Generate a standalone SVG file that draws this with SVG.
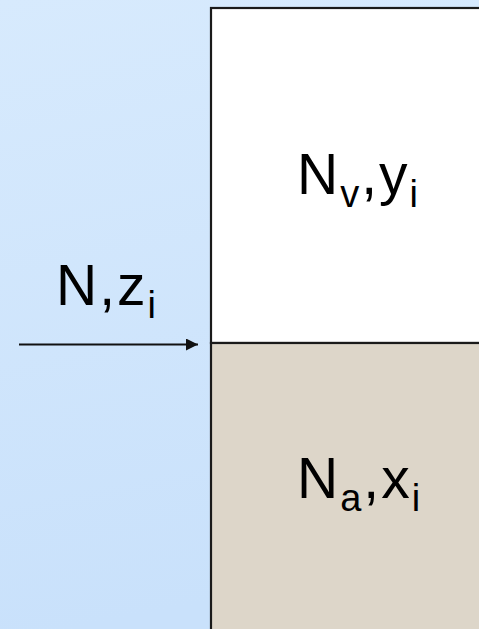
<svg xmlns="http://www.w3.org/2000/svg" width="479" height="629" viewBox="0 0 479 629">
  <defs>
    <linearGradient id="bg" x1="0" y1="0" x2="0.15" y2="1">
      <stop offset="0" stop-color="#d7eafd"/>
      <stop offset="1" stop-color="#c9e1fb"/>
    </linearGradient>
    <marker id="ah" viewBox="0 0 10 10" refX="10" refY="5" markerWidth="8.5" markerHeight="6" markerUnits="strokeWidth" orient="auto">
      <path d="M0,0 L10,5 L0,10 Z" fill="#111"/>
    </marker>
  </defs>
  <style>
    .lbl { font-family: "Liberation Sans", Arial, sans-serif; font-size: 57px; fill: #000; letter-spacing: 2px; }
    .sub { font-size: 38px; }
    .box { stroke: #1a1a1a; stroke-width: 2.2; }
  </style>
  <rect x="0" y="0" width="479" height="629" fill="url(#bg)"/>
  <g id="vapor">
    <rect class="box" x="211" y="8" width="280" height="335" fill="#ffffff"/>
    <text class="lbl" x="297" y="194">N<tspan class="sub" dy="13">v</tspan><tspan dy="-13">,y</tspan><tspan class="sub" dy="13">i</tspan></text>
  </g>
  <g id="liquid">
    <rect class="box" x="211" y="343" width="280" height="300" fill="#ddd6c9"/>
    <text class="lbl" x="297" y="498">N<tspan class="sub" dy="13">a</tspan><tspan dy="-13">,x</tspan><tspan class="sub" dy="13">i</tspan></text>
  </g>
  <g id="feed">
    <text class="lbl" x="56" y="305">N,z<tspan class="sub" dy="13">i</tspan></text>
  </g>
  <g id="connectors">
    <line x1="19" y1="344.5" x2="198" y2="344.5" stroke="#111" stroke-width="2" marker-end="url(#ah)"/>
  </g>
</svg>
